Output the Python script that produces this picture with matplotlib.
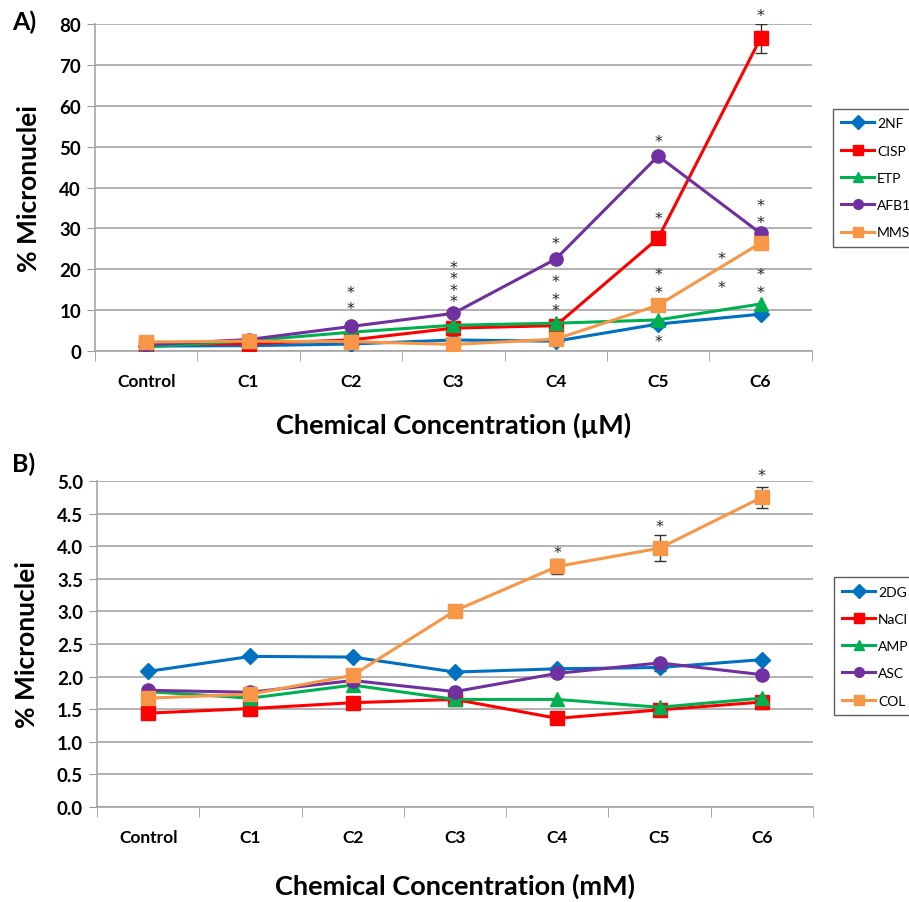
import matplotlib
matplotlib.use("Agg")
import matplotlib.pyplot as plt
import numpy as np

plt.rcParams["font.family"] = ["Lato", "DejaVu Sans"]

categories = ["Control", "C1", "C2", "C3", "C4", "C5", "C6"]

# panel A (uM)
a_names = ["2NF", "CISP", "ETP", "AFB1", "MMS"]
a_2nf = [1.2, 1.3, 1.7, 2.7, 2.4, 6.6, 9.0]
a_cisp = [1.5, 1.8, 2.7, 5.6, 6.2, 27.6, 76.5]
a_etp = [1.0, 2.5, 4.6, 6.3, 6.8, 7.6, 11.5]
a_afb1 = [1.5, 2.8, 6.0, 9.2, 22.5, 47.7, 28.8]
a_mms = [2.2, 2.4, 2.3, 1.6, 2.9, 11.2, 26.4]
a_err_cisp = [0, 0, 0, 0, 0, 0, 3.5]
a_stars_x = [2, 2, 3, 3, 3, 3, 4, 4, 4, 4, 5, 5, 5, 5, 5, 5.62, 5.62, 6, 6, 6, 6, 6]
a_stars_y = [14.4, 10.3, 20.5, 17.8, 14.9, 12.2, 26.4, 16.9, 12.7, 10.0,
             51.3, 32.3, 18.6, 14.4, 2.4, 22.7, 15.6, 82.2, 35.5, 31.5, 18.6, 14.4]

# panel B (mM)
b_names = ["2DG", "NaCl", "AMP", "ASC", "COL"]
b_2dg = [2.08, 2.31, 2.30, 2.07, 2.12, 2.14, 2.26]
b_nacl = [1.44, 1.51, 1.60, 1.65, 1.36, 1.49, 1.61]
b_amp = [1.77, 1.67, 1.87, 1.65, 1.65, 1.53, 1.67]
b_asc = [1.79, 1.76, 1.94, 1.77, 2.05, 2.21, 2.03]
b_col = [1.67, 1.73, 2.02, 3.01, 3.69, 3.97, 4.75]
b_err_2dg = [0, 0, 0, 0, 0, 0.05, 0]
b_err_nacl = [0, 0, 0, 0, 0, 0, 0.10]
b_err_asc = [0, 0.08, 0, 0, 0, 0, 0]
b_err_col = [0, 0, 0, 0.05, 0.12, 0.20, 0.16]
b_stars_x = [4, 5, 6]
b_stars_y = [3.91, 4.31, 5.09]

colors = ["#0070C0", "#FF0000", "#00B050", "#7030A0", "#F79646"]
markers = ["D", "s", "^", "o", "s"]
msizes = [8, 9.5, 9.5, 9.5, 9.5]


def draw_panel(ax, series, errs, names, stars_x, stars_y, yticks, ymax, fmt):
    x = np.arange(len(categories))
    for i, (vals, name) in enumerate(zip(series, names)):
        ax.plot(x, vals, color=colors[i], marker=markers[i], ms=msizes[i],
                lw=2.2, label=name, zorder=3 + i)
        if errs[i] is not None:
            e = np.array(errs[i])
            m = e > 0
            ax.errorbar(x[m], np.array(vals)[m], yerr=e[m], fmt="none",
                        ecolor="#333333", elinewidth=1, capsize=4, zorder=2 + i)
    for sx, sy in zip(stars_x, stars_y):
        ax.text(sx, sy, "*", ha="center", va="center", fontsize=11.5,
                family="DejaVu Sans", color="#222222", clip_on=False)
    ax.set_xlim(-0.5, len(categories) - 0.5)
    ax.set_ylim(0, ymax)
    ax.set_yticks(yticks)
    ax.set_yticklabels([fmt.format(v) for v in yticks], fontsize=13.5,
                       fontweight="bold")
    ax.set_xticks(x)
    ax.set_xticklabels(categories, fontsize=12.5, fontweight="bold")
    ax.set_xticks(np.arange(-0.5, len(categories)), minor=True)
    ax.tick_params(axis="x", which="major", length=0, pad=16)
    ax.tick_params(axis="x", which="minor", length=7, color="#999999",
                   direction="out")
    ax.tick_params(axis="y", length=6, color="#999999", pad=4)
    ax.grid(axis="y", color="#a6a6a6", lw=1.2)
    ax.set_axisbelow(True)
    for s in ["top", "right"]:
        ax.spines[s].set_visible(False)
    for s in ["left", "bottom"]:
        ax.spines[s].set_color("#a6a6a6")
        ax.spines[s].set_linewidth(1.2)
    ax.set_ylabel("% Micronuclei", fontsize=19, fontweight="bold", labelpad=13)


fig = plt.figure(figsize=(9.09, 9.03), dpi=100)
ax1 = fig.add_axes([0.1045, 0.6102, 0.7885, 0.3621])
ax2 = fig.add_axes([0.1067, 0.1052, 0.7877, 0.3610])

draw_panel(ax1, [a_2nf, a_cisp, a_etp, a_afb1, a_mms],
           [None, a_err_cisp, None, None, None], a_names,
           a_stars_x, a_stars_y, np.arange(0, 81, 10), 80, "{:.0f}")
draw_panel(ax2, [b_2dg, b_nacl, b_amp, b_asc, b_col],
           [b_err_2dg, b_err_nacl, None, b_err_asc, b_err_col], b_names,
           b_stars_x, b_stars_y, np.arange(0, 5.01, 0.5), 5, "{:.1f}")

ax1.set_xlabel("Chemical Concentration (\u00b5M)", fontsize=19.5,
               fontweight="bold", labelpad=16)
ax2.set_xlabel("Chemical Concentration (mM)", fontsize=19.5,
               fontweight="bold", labelpad=20)

for ax, top in [(ax1, 0.74), (ax2, 0.705)]:
    leg = ax.legend(loc="upper left", bbox_to_anchor=(1.029, top),
                    borderaxespad=0, fontsize=10, frameon=True, fancybox=False,
                    handlelength=2.4, labelspacing=1.1, borderpad=0.6,
                    handletextpad=0.2)
    leg.get_frame().set_edgecolor("#333333")
    leg.get_frame().set_linewidth(1.0)
    for h in leg.legend_handles:
        h.set_markersize(7)

fig.text(0.013, 0.975, "A)", fontsize=18, fontweight="bold", va="center")
fig.text(0.013, 0.486, "B)", fontsize=18, fontweight="bold", va="center")

fig.savefig("out.png", dpi=100)
